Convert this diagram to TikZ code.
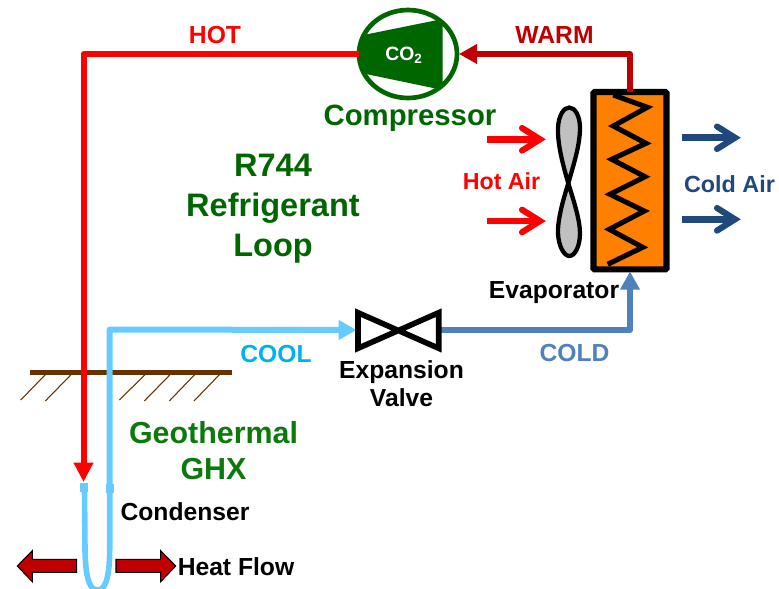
\documentclass[tikz,border=0pt]{standalone}
\usepackage{fontspec}
\setmainfont{Liberation Sans}
\usetikzlibrary{arrows.meta,shapes.geometric}
\definecolor{hotred}{HTML}{FF0000}
\definecolor{warmred}{HTML}{C00000}
\definecolor{coolblue}{HTML}{66CCFF}
\definecolor{coolText}{HTML}{00B0F0}
\definecolor{coldblue}{HTML}{4F81BD}
\definecolor{airblue}{HTML}{1F497D}
\definecolor{dkgreen}{HTML}{006600}
\definecolor{ghxgreen}{HTML}{0B7A0B}
\definecolor{evaporange}{HTML}{FF7F00}
\definecolor{ground}{HTML}{663300}
\definecolor{fangray}{HTML}{C0C0C0}
\tikzset{
  x=0.75pt,y=-0.75pt,
  lbl/.style={inner sep=0pt,outer sep=0pt,align=center,font=\fontsize{18.5}{21}\selectfont\bfseries},
  pipe/.style={line width=4.5pt,line join=round},
  pipetip/.style={pipe,-{Triangle[length=13.5pt,width=14pt]}},
  hatchline/.style={ground,line width=0.8pt},
  airshaft/.style={line width=5pt},
  airhead/.style={line width=4.6pt,line cap=round,miter limit=10},
  heatarrow/.style={fill=warmred,draw=black,line width=0.8pt,line join=miter},
  blade/.style={fill=fangray,draw=black,line width=3.2pt,line join=round}
}
\begin{document}
\begin{tikzpicture}
\useasboundingbox (0,0) rectangle (779,589);

% ground
\node[inner sep=0pt,outer sep=0pt,minimum width=151.5pt,minimum height=3.4pt,fill=ground] (gnd) at (131,372.3) {};
\draw[hatchline] (46,374) -- (20.7,400);
\draw[hatchline] (71.7,374) -- (45.3,401);
\draw[hatchline] (145.7,374) -- (119.3,400);
\draw[hatchline] (170.7,374) -- (144.3,401);
\draw[hatchline] (195.3,374) -- (169.3,401);
\draw[hatchline] (220,374) -- (194,401);

% nodes of the loop
\node[ellipse,draw=dkgreen,line width=3.5pt,fill=white,inner sep=0pt,outer sep=0pt,minimum width=73.5pt,minimum height=66pt] (comp) at (408,54) {};
\node[rectangle,draw=black,line width=4.6pt,fill=evaporange,rounded corners=0.8pt,inner sep=0pt,outer sep=0pt,minimum width=54.75pt,minimum height=133pt] (evap) at (630,180.7) {};
\coordinate (valveL) at (356.7,330);
\coordinate (valveR) at (439,330);
\coordinate (hotcorner) at (83.5,54);
\coordinate (hotend) at (83.5,482);
\coordinate (coolcorner) at (109.7,329.5);
\coordinate (coolstart) at (109.7,484);
\coordinate (warmcorner) at (evap.north |- comp.east);
\coordinate (coldcorner) at (evap.south |- valveR);

% compressor interior
\begin{scope}
  \clip (408,54) ellipse [x radius=49,y radius=44];
  \fill[dkgreen] (355,36.7) -- (442.7,19) -- (442.7,90) -- (355,71.7) -- cycle;
\end{scope}
\node[inner sep=0pt,text=white,font=\fontsize{14.5}{16}\selectfont\bfseries] (co2) at (404,55) {CO\textsubscript{2}};

% pipes
\draw[pipe,hotred,-{Triangle[length=14.5pt,width=14pt]}] (comp.west) -- (hotcorner) -- (hotend);
\draw[pipetip,warmred] (evap.north) -- (warmcorner) -- ([xshift=1.5pt]comp.east);
\draw[pipetip,coolblue] (coolstart) -- (coolcorner) -- (valveL);
\draw[pipetip,coldblue] (valveR) -- (coldcorner) -- ([yshift=-1.6pt]evap.south);

% valve
\draw[black,line width=4.2pt,fill=white,line join=miter] (358,312.7) -- (438.7,348.3) -- (438.7,312.7) -- (358,348.3) -- cycle;

% coil
\draw[black,line width=3.8pt,line join=miter]
 (613.3,95) -- (647.3,107.3) -- (613.3,126) -- (646,143.3) -- (611.7,159.3) -- (645,176.7)
 -- (610,194.3) -- (644.3,211) -- (609.3,229.3) -- (642.7,247.3) -- (607.7,264.3);

% fan
\draw[blade] (568.3,183.3) .. controls (563,165) and (557.5,145) .. (558,128)
  .. controls (558.5,115) and (564,107.5) .. (569.3,107.5)
  .. controls (575,107.5) and (580,116) .. (580,128)
  .. controls (580,145) and (573.5,165) .. (568.3,183.3) -- cycle;
\draw[blade] (568.3,183.3) .. controls (563,200) and (557.5,220) .. (558,233.3)
  .. controls (558.5,246) and (564,256) .. (569.3,256)
  .. controls (575,256) and (580,246) .. (580,233.3)
  .. controls (580,220) and (573.5,200) .. (568.3,183.3) -- cycle;

% air arrows
\draw[airshaft,hotred] (486.7,139.3) -- (538,139.3);
\draw[airhead,hotred] (522,128) -- (540,139.3) -- (522,150.6);
\draw[airshaft,hotred] (486.7,221) -- (538,221);
\draw[airhead,hotred] (522,209.7) -- (540,221) -- (522,232.3);
\draw[airshaft,airblue] (681.7,137.7) -- (733,137.7);
\draw[airhead,airblue] (717,126.5) -- (735,137.7) -- (717,149);
\draw[airshaft,airblue] (681.7,219.3) -- (733,219.3);
\draw[airhead,airblue] (717,208) -- (735,219.3) -- (717,230.6);

% condenser tube
\draw[coolblue,line width=4.2pt] (84.5,488) -- (85,550) .. controls (85.5,582) and (91,590) .. (97.5,590)
  .. controls (104,590) and (109.5,582) .. (109.7,550) -- (109.7,488);
\fill[coolblue] (80,482.7) rectangle (88,491.7);
\fill[coolblue] (106,484) rectangle (114.3,492.7);

% heat flow
\draw[heatarrow] (76.7,559.3) -- (32.3,559.3) -- (32.3,550.7) -- (17.3,566) -- (32.3,581.7) -- (32.3,572.3) -- (76.7,572.3) -- cycle;
\draw[heatarrow] (116,559.3) -- (160.7,559.3) -- (160.7,550.7) -- (175.7,566) -- (160.7,581.7) -- (160.7,572.3) -- (116,572.3) -- cycle;

% labels
\node[lbl,text=hotred] (hot) at (215,35) {HOT};
\node[lbl,text=warmred] (warm) at (554.5,35) {WARM};
\node[lbl,text=dkgreen,font=\fontsize{22}{26}\selectfont\bfseries] (compl) at (410,118) {Compressor};
\node[lbl,text=dkgreen,font=\fontsize{24.4}{30}\selectfont\bfseries] (loop) at (273,209) {R744\\Refrigerant\\Loop};
\node[lbl,text=hotred,font=\fontsize{17.4}{20}\selectfont\bfseries] (hotair) at (501.5,181.5) {Hot Air};
\node[lbl,text=airblue,font=\fontsize{17.5}{20}\selectfont\bfseries] (coldair) at (729.5,184) {Cold Air};
\node[lbl,text=black] (evapl) at (554,293) {Evaporator};
\node[lbl,text=coolText] (cool) at (276,354) {COOL};
\node[lbl,text=coldblue] (cold) at (574.5,353) {COLD};
\node[lbl,text=black] (valvel) at (401.5,384) {Expansion\\Valve};
\node[lbl,text=ghxgreen,font=\fontsize{22.8}{27}\selectfont\bfseries] (ghx) at (213.5,451) {Geothermal\\GHX};
\node[lbl,text=black] (cond) at (185,511.5) {Condenser};
\node[lbl,text=black] (heat) at (236,567) {Heat Flow};
\end{tikzpicture}
\end{document}
